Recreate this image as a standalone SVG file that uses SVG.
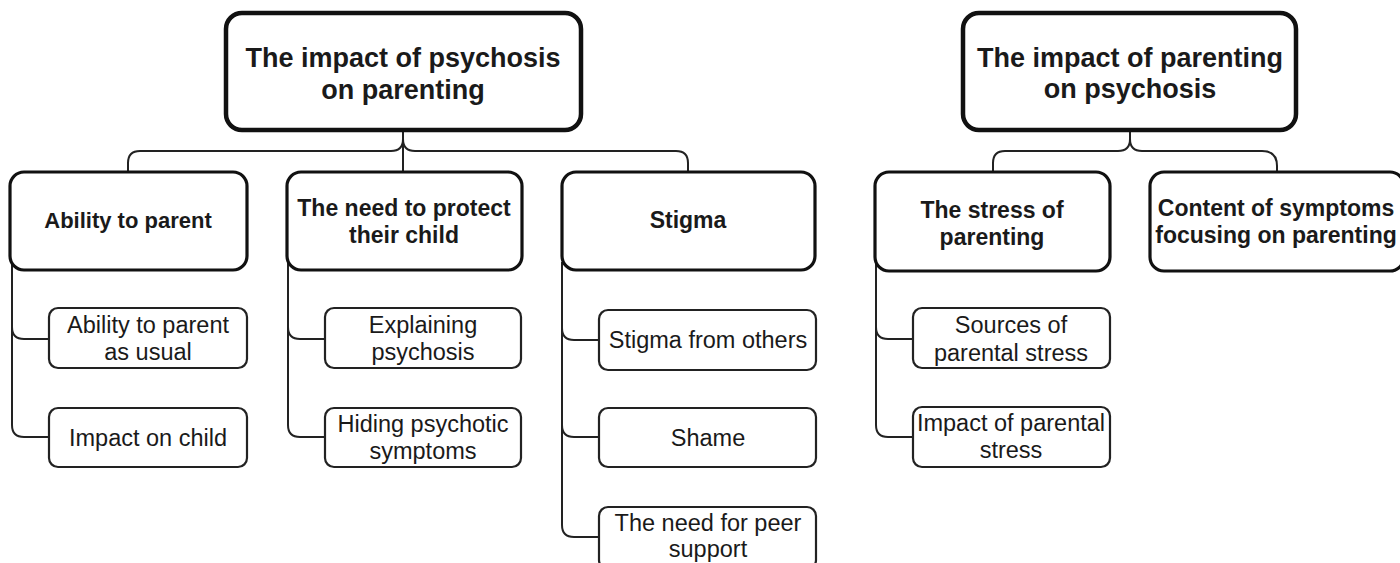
<svg xmlns="http://www.w3.org/2000/svg" width="1400" height="563" viewBox="0 0 1400 563">
<style>
text{font-family:"Liberation Sans",Arial,sans-serif;fill:#1a1a1a;text-anchor:middle}
.root rect{fill:#fff;stroke:#111;stroke-width:4.5}
.root text{font-size:27px;font-weight:bold}
.l1 rect{fill:#fff;stroke:#111;stroke-width:3.2}
.l1 text{font-size:23px;font-weight:bold}
.sub rect{fill:#fff;stroke:#222;stroke-width:2.2}
.sub text{font-size:23.5px}
#connectors path{fill:none;stroke:#222;stroke-width:2}
</style>
<rect width="1400" height="563" fill="#fff"/>
<g id="connectors">
<path d="M403,131 V172"/>
<path d="M403,139 Q403,151 391,151 H140 Q128,151 128,163 V172"/>
<path d="M403,139 Q403,151 415,151 H676 Q688,151 688,163 V172"/>
<path d="M1130,131 V139 Q1130,151 1118,151 H1005 Q993,151 993,163 V172"/>
<path d="M1130,139 Q1130,151 1142,151 H1262 Q1277,151 1277,166 V172"/>
<path d="M12,262 V425 Q12,437 24,437 H49"/>
<path d="M12,327 Q12,339 24,339 H49"/>
<path d="M288,262 V425 Q288,437 300,437 H325"/>
<path d="M288,327 Q288,339 300,339 H325"/>
<path d="M562,262 V525 Q562,537 574,537 H599"/>
<path d="M562,328 Q562,340 574,340 H599"/>
<path d="M562,425 Q562,437 574,437 H599"/>
<path d="M876,264 V425 Q876,437 888,437 H913"/>
<path d="M876,327 Q876,339 888,339 H913"/>
</g>
<g id="root1" class="root">
<rect x="226" y="13" width="355" height="117" rx="16"/>
<text x="403" y="67">The impact of psychosis</text>
<text x="403" y="99">on parenting</text>
</g>
<g id="root2" class="root">
<rect x="963" y="13" width="333" height="117" rx="16"/>
<text x="1130" y="67">The impact of parenting</text>
<text x="1130" y="98">on psychosis</text>
</g>
<g id="ability" class="l1">
<rect x="10" y="172" width="237" height="98" rx="14"/>
<text x="128" y="228" style="font-size:22px">Ability to parent</text>
</g>
<g id="protect" class="l1">
<rect x="287" y="172" width="235" height="98" rx="14"/>
<text x="404" y="216">The need to protect</text>
<text x="404" y="243">their child</text>
</g>
<g id="stigma" class="l1">
<rect x="562" y="172" width="253" height="98" rx="14"/>
<text x="688" y="228">Stigma</text>
</g>
<g id="stress" class="l1">
<rect x="875" y="172" width="235" height="99" rx="14"/>
<text x="992" y="218">The stress of</text>
<text x="992" y="245">parenting</text>
</g>
<g id="content" class="l1">
<rect x="1150" y="172" width="254" height="99" rx="14"/>
<text x="1276" y="216">Content of symptoms</text>
<text x="1276" y="243">focusing on parenting</text>
</g>
<g id="usual" class="sub">
<rect x="49" y="308" width="198" height="60" rx="9"/>
<text x="148" y="333">Ability to parent</text>
<text x="148" y="360">as usual</text>
</g>
<g id="impact-child" class="sub">
<rect x="49" y="408" width="198" height="59" rx="9"/>
<text x="148" y="446">Impact on child</text>
</g>
<g id="explaining" class="sub">
<rect x="325" y="308" width="196" height="60" rx="9"/>
<text x="423" y="333">Explaining</text>
<text x="423" y="360">psychosis</text>
</g>
<g id="hiding" class="sub">
<rect x="325" y="408" width="196" height="59" rx="9"/>
<text x="423" y="432">Hiding psychotic</text>
<text x="423" y="459">symptoms</text>
</g>
<g id="stigma-others" class="sub">
<rect x="599" y="310" width="217" height="60" rx="9"/>
<text x="708" y="348">Stigma from others</text>
</g>
<g id="shame" class="sub">
<rect x="599" y="408" width="217" height="59" rx="9"/>
<text x="708" y="446">Shame</text>
</g>
<g id="peer" class="sub">
<rect x="599" y="507" width="217" height="62" rx="9"/>
<text x="708" y="531">The need for peer</text>
<text x="708" y="557">support</text>
</g>
<g id="sources" class="sub">
<rect x="913" y="308" width="197" height="60" rx="9"/>
<text x="1011" y="333">Sources of</text>
<text x="1011" y="361">parental stress</text>
</g>
<g id="impact-stress" class="sub">
<rect x="913" y="407" width="197" height="60" rx="9"/>
<text x="1011" y="431">Impact of parental</text>
<text x="1011" y="458">stress</text>
</g>
</svg>
